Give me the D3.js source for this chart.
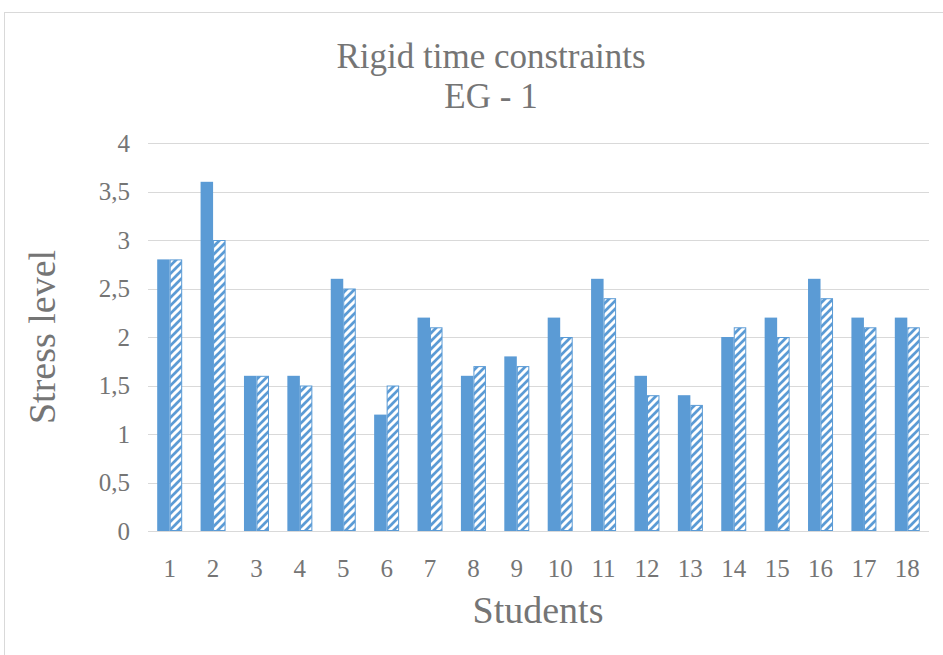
<!DOCTYPE html>
<html>
<head>
<meta charset="utf-8">
<script src="https://cdn.jsdelivr.net/npm/d3@7"></script>
<style>
  body { margin: 0; background: #fff; }
  svg { display: block; }
  svg text { font-family: "Liberation Serif", "DejaVu Serif", "Times New Roman", Times, serif; }
</style>
</head>
<body>
<svg id="chart" width="943" height="655"></svg>
<script>
const students = ['1','2','3','4','5','6','7','8','9','10','11','12','13','14','15','16','17','18'];
const solidValues = [2.8, 3.6, 1.6, 1.6, 2.6, 1.2, 2.2, 1.6, 1.8, 2.2, 2.6, 1.6, 1.4, 2.0, 2.2, 2.6, 2.2, 2.2];
const hatchValues = [2.8, 3.0, 1.6, 1.5, 2.5, 1.5, 2.1, 1.7, 1.7, 2.0, 2.4, 1.4, 1.3, 2.1, 2.0, 2.4, 2.1, 2.1];
const yTicks = [0, 0.5, 1, 1.5, 2, 2.5, 3, 3.5, 4];

const blue = '#5b9bd5';
const grey = '#757575';

const svg = d3.select('#chart');

// outer chart border
svg.append('rect')
  .attr('x', 4.5).attr('y', 12.5)
  .attr('width', 960).attr('height', 660)
  .attr('fill', 'none').attr('stroke', '#d9d9d9');

const defs = svg.append('defs');
const pat = defs.append('pattern')
  .attr('id', 'hatch')
  .attr('patternUnits', 'userSpaceOnUse')
  .attr('width', 8).attr('height', 8);
pat.append('rect').attr('width', 8).attr('height', 8).attr('fill', blue);
pat.append('path')
  .attr('d', 'M-2,2 L2,-2 M0,8 L8,0 M6,10 L10,6')
  .attr('stroke', '#fff').attr('stroke-width', 3);

const plotL = 148, plotR = 929, plotT = 143, plotB = 531;

const x = d3.scaleBand().domain(students).range([plotL, plotR]).paddingInner(0).paddingOuter(0);
const y = d3.scaleLinear().domain([0, 4]).range([plotB, plotT]);

const barW = 12.5;

// gridlines
svg.append('g')
  .selectAll('line')
  .data(yTicks)
  .join('line')
  .attr('x1', plotL).attr('x2', plotR)
  .attr('y1', d => Math.round(y(d)) + 0.5)
  .attr('y2', d => Math.round(y(d)) + 0.5)
  .attr('stroke', '#d9d9d9').attr('stroke-width', 1);

// bars
const groups = svg.append('g')
  .selectAll('g')
  .data(students)
  .join('g');

groups.append('rect')
  .attr('x', d => x(d) + x.bandwidth() / 2 - barW)
  .attr('y', (d, i) => y(solidValues[i]))
  .attr('width', barW)
  .attr('height', (d, i) => plotB - y(solidValues[i]))
  .attr('fill', blue);

groups.append('rect')
  .attr('x', d => x(d) + x.bandwidth() / 2 + 0.5)
  .attr('y', (d, i) => y(hatchValues[i]) + 0.5)
  .attr('width', barW - 1)
  .attr('height', (d, i) => plotB - y(hatchValues[i]) - 1)
  .attr('fill', 'url(#hatch)')
  .attr('stroke', blue).attr('stroke-width', 1);

// axis baseline
svg.append('line')
  .attr('x1', plotL).attr('x2', plotR)
  .attr('y1', plotB + 0.5).attr('y2', plotB + 0.5)
  .attr('stroke', '#d9d9d9');

// y tick labels
svg.append('g')
  .selectAll('text')
  .data(yTicks)
  .join('text')
  .attr('x', 130)
  .attr('y', d => y(d))
  .attr('dy', '0.35em')
  .attr('text-anchor', 'end')
  .attr('fill', grey)
  .attr('font-size', 25)
  .text(d => String(d).replace('.', ','));

// x tick labels
svg.append('g')
  .selectAll('text')
  .data(students)
  .join('text')
  .attr('x', d => x(d) + x.bandwidth() / 2)
  .attr('y', 577)
  .attr('text-anchor', 'middle')
  .attr('fill', grey)
  .attr('font-size', 25)
  .text(d => d);

// titles
svg.append('text')
  .attr('x', 491).attr('y', 68)
  .attr('text-anchor', 'middle').attr('fill', grey).attr('font-size', 35)
  .text('Rigid time constraints');
svg.append('text')
  .attr('x', 491).attr('y', 108)
  .attr('text-anchor', 'middle').attr('fill', grey).attr('font-size', 35)
  .text('EG - 1');

svg.append('text')
  .attr('x', 538).attr('y', 623)
  .attr('text-anchor', 'middle').attr('fill', grey).attr('font-size', 38)
  .text('Students');

svg.append('text')
  .attr('transform', 'translate(55,337) rotate(-90)')
  .attr('text-anchor', 'middle').attr('fill', grey).attr('font-size', 38)
  .text('Stress level');
</script>
</body>
</html>
